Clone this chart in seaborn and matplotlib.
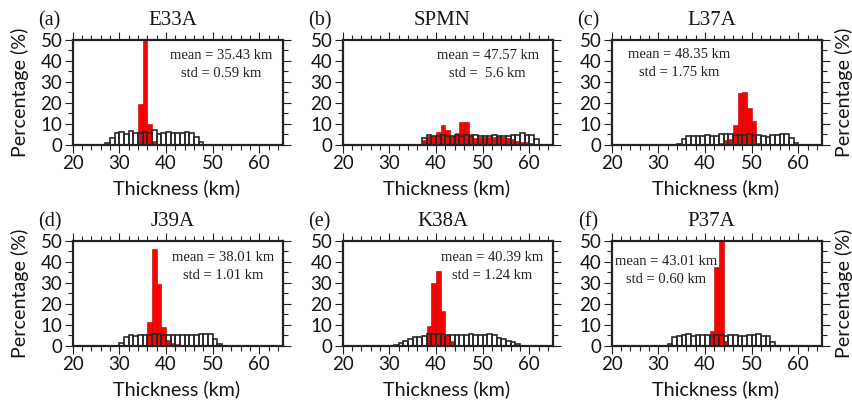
import numpy as np
import pandas as pd
import matplotlib
matplotlib.use("Agg")
import matplotlib.pyplot as plt
import seaborn as sns
from matplotlib.ticker import MultipleLocator

# ---------------------------------------------------------------- data
stations = ["E33A", "SPMN", "L37A", "J39A", "K38A", "P37A"]
panel_tags = ["(a)", "(b)", "(c)", "(d)", "(e)", "(f)"]
mean_km = ["35.43", "47.57", "48.35", "38.01", "40.39", "43.01"]
std_km = ["0.59", " 5.6", "1.75", "1.01", "1.24", "0.60"]

# left edge (km) of the first 1-km bin of each histogram
prior_first = [27, 37, 34, 30, 31, 32]
post_first = [34, 37, 43, 36, 38, 41]

# prior thickness distributions (%), 1-km bins
prior_e33a = [0.8, 2.9, 5.5, 5.8, 5.2, 6.4, 5.5, 5.3, 6.2, 5.4, 6.7, 5.0, 5.3,
              5.8, 5.6, 5.7, 5.6, 6.0, 5.4, 3.8, 1.2]
prior_spmn = [2.9, 4.7, 4.2, 4.2, 4.4, 4.2, 4.1, 4.4, 4.3, 4.7, 4.2, 4.7, 4.1,
              4.2, 4.1, 4.4, 4.2, 4.1, 4.1, 4.4, 4.7, 5.3, 4.7, 4.5, 2.8]
prior_l37a = [0.3, 2.4, 4.1, 4.0, 4.0, 4.1, 4.6, 4.1, 4.3, 4.8, 4.9, 4.8, 4.6,
              4.5, 4.6, 4.8, 4.6, 4.6, 4.0, 3.8, 4.4, 4.6, 4.8, 4.8, 3.2, 0.5]
prior_j39a = [1.4, 4.3, 4.9, 4.6, 5.1, 4.9, 4.9, 5.4, 5.7, 5.3, 5.1, 4.9, 5.3,
              4.9, 4.9, 5.3, 4.9, 5.4, 5.7, 5.4, 3.2, 0.8]
prior_k38a = [0.5, 1.1, 2.4, 3.0, 4.0, 4.3, 4.6, 5.8, 5.4, 5.6, 5.5, 5.3, 5.0,
              5.1, 5.0, 4.9, 5.5, 5.1, 5.0, 5.3, 5.6, 4.9, 3.8, 3.2, 2.4, 1.6, 0.8]
prior_p37a = [1.0, 4.3, 4.5, 4.9, 5.4, 4.8, 5.2, 5.2, 5.2, 4.6, 4.9, 5.2, 4.5,
              4.9, 5.2, 4.6, 4.8, 4.9, 5.1, 5.6, 4.6, 4.5, 1.9]

# posterior thickness distributions (%), 1-km bins
post_e33a = [19.2, 69.5, 10.0, 1.5]
post_spmn = [2.0, 4.1, 3.9, 6.1, 9.3, 6.9, 4.1, 5.3, 10.9, 10.9, 4.9, 3.3, 3.4,
             3.6, 3.4, 3.6, 4.2, 3.4, 2.9, 2.5, 1.8, 1.4, 1.0, 0.5, 0.2]
post_l37a = [0.8, 2.2, 2.6, 9.4, 24.8, 25.2, 17.3, 11.3, 0.8]
post_j39a = [11.5, 46.0, 29.5, 8.8, 2.7, 1.1, 0.6]
post_k38a = [9.4, 30.0, 35.7, 16.8, 5.3, 2.3, 0.3, 0.0, 0.5]
post_p37a = [7.0, 37.4, 53.2, 2.4]

prior_sets = [prior_e33a, prior_spmn, prior_l37a, prior_j39a, prior_k38a, prior_p37a]
post_sets = [post_e33a, post_spmn, post_l37a, post_j39a, post_k38a, post_p37a]

# annotation placement (axes fraction)
note_x = [0.705, 0.69, 0.319, 0.717, 0.711, 0.26]
note_y_mean = [0.847, 0.847, 0.863, 0.844, 0.844, 0.802]
note_y_std = [0.681, 0.681, 0.687, 0.675, 0.675, 0.637]

# ---------------------------------------------------------------- style
sns.set_style("ticks")
plt.rcParams["font.family"] = ["Lato", "DejaVu Sans"]
plt.rcParams["axes.linewidth"] = 1.6
SERIF = ["Liberation Serif", "DejaVu Serif"]
INK = "#222222"
TXT = "#151515"


def draw_hist(ax, first, pct, **kw):
    n = len(pct)
    centers = np.arange(n, dtype=float) + first + 0.5
    frame = pd.DataFrame({"km": centers, "pct": np.asarray(pct, float)})
    sns.histplot(data=frame, x="km", weights="pct", binwidth=1.0,
                 binrange=(float(first), float(first + n)),
                 stat="count", ax=ax, **kw)


fig = plt.figure(figsize=(8.52, 4.07), dpi=100)
col_left = [72.7, 342.7, 611.7]
row_span = [(40.0, 144.5), (241.0, 345.7)]
W, H = 852.0, 407.0

for i, name in enumerate(stations):
    r, c = divmod(i, 3)
    top, bot = row_span[r]
    ax = fig.add_axes([col_left[c] / W, (H - bot) / H, 210.0 / W, (bot - top) / H])

    draw_hist(ax, post_first[i], post_sets[i], color="#ff0000",
              edgecolor="#b00000", linewidth=0.4, alpha=1.0)
    draw_hist(ax, prior_first[i], prior_sets[i], fill=False,
              color="#2a2a2a", linewidth=1.2)

    ax.set_xlim(20, 65)
    ax.set_ylim(0, 50)
    ax.xaxis.set_major_locator(MultipleLocator(10))
    ax.xaxis.set_minor_locator(MultipleLocator(2))
    ax.yaxis.set_major_locator(MultipleLocator(10))
    ax.yaxis.set_minor_locator(MultipleLocator(5))
    ax.tick_params(which="both", direction="out", top=True, right=True,
                   labeltop=False, labelright=False, colors=INK, width=0.8)
    ax.tick_params(which="major", length=6, labelsize=13.5, pad=1.5,
                   labelcolor=TXT)
    ax.tick_params(which="minor", length=3.5)
    ax.tick_params(axis="y", which="both", right=True)
    ax.set_xlabel("")
    ax.set_ylabel("")
    for s in ax.spines.values():
        s.set_color(INK)

    ax.text(0.495, -0.416, "Thickness (km)", transform=ax.transAxes,
            ha="center", va="center", fontsize=14.2, color=TXT)
    if c == 0:
        ax.text(-0.249, 0.5, "Percentage (%)", transform=ax.transAxes,
                rotation=90, ha="center", va="center", fontsize=14.2,
                color=TXT)
    if c == 2:
        ax.text(1.104, 0.5, "Percentage (%)", transform=ax.transAxes,
                rotation=90, ha="center", va="center", fontsize=14.2,
                color=TXT)

    ax.text(0.475, 1.14, name, transform=ax.transAxes, ha="center",
            va="baseline", fontsize=15, family=SERIF, color=TXT)
    ax.text(-0.11, 1.14, panel_tags[i], transform=ax.transAxes, ha="center",
            va="baseline", fontsize=14.5, family=SERIF, color=TXT)

    ax.text(note_x[i], note_y_mean[i], f"mean = {mean_km[i]} km",
            transform=ax.transAxes, ha="center", va="center", fontsize=10.5,
            family=SERIF, color=INK)
    ax.text(note_x[i], note_y_std[i], f"std = {std_km[i]} km",
            transform=ax.transAxes, ha="center", va="center", fontsize=10.5,
            family=SERIF, color=INK)

fig.savefig("out.png", dpi=100, facecolor="white")
